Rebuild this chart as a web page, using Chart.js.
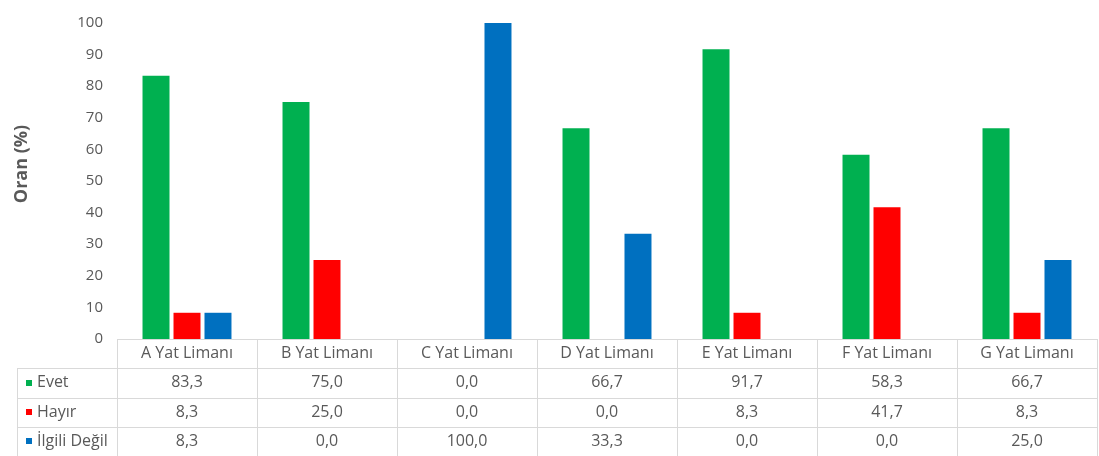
<!DOCTYPE html>
<html lang="tr">
<head>
<meta charset="utf-8">
<title>Yat Limanları – Oran (%)</title>
<script src="https://cdn.jsdelivr.net/npm/chart.js@4.4.1/dist/chart.umd.min.js"></script>
<style>
  html, body { margin: 0; padding: 0; background: #ffffff; }
  #wrap { position: relative; width: 1099px; height: 456px; }
</style>
</head>
<body>
<div id="wrap"><canvas id="chart" width="1099" height="456"></canvas></div>
<script>
// Categories and series
const categories = ['A Yat Limanı', 'B Yat Limanı', 'C Yat Limanı', 'D Yat Limanı', 'E Yat Limanı', 'F Yat Limanı', 'G Yat Limanı'];
const seriesNames = ['Evet', 'Hayır', 'İlgili Değil'];
const evet = [83.3, 75.0, 0.0, 66.7, 91.7, 58.3, 66.7];
const hayir = [8.3, 25.0, 0.0, 0.0, 8.3, 41.7, 8.3];
const ilgiliDegil = [8.3, 0.0, 100.0, 33.3, 0.0, 0.0, 25.0];
const yTicks = [0, 10, 20, 30, 40, 50, 60, 70, 80, 90, 100];
const yTitle = 'Oran (%)';

const seriesColors = ['#00B050', '#FF0000', '#0070C0'];
const textColor = '#595959';
const lineColor = '#d9d9d9';
const fontFamily = '"Open Sans", "Noto Sans", sans-serif';

const seriesValues = [evet, hayir, ilgiliDegil];

// Formats a value with a decimal comma, e.g. 83,3
function fmt(v) {
  return v.toFixed(1).replace('.', ',');
}

// Draws the data table under the plot, aligned to the category scale,
// plus the rotated axis title.
const dataTablePlugin = {
  id: 'dataTable',
  afterDraw(chart) {
    const ctx = chart.ctx;
    const xs = chart.scales.x;
    const area = chart.chartArea;
    const n = categories.length;
    const colW = (area.right - area.left) / n;
    const top = area.bottom;
    const bottom = chart.height;
    const rowH = (bottom - top) / 4;
    const tableLeft = 17;

    ctx.save();
    ctx.strokeStyle = lineColor;
    ctx.lineWidth = 1;

    // horizontal rules
    ctx.beginPath();
    ctx.moveTo(area.left, Math.round(top) + 0.5);
    ctx.lineTo(area.right, Math.round(top) + 0.5);
    for (let r = 1; r < 4; r++) {
      const y = Math.round(top + r * rowH) + 0.5;
      ctx.moveTo(tableLeft, y);
      ctx.lineTo(area.right, y);
    }
    // vertical rules
    for (let c = 0; c <= n; c++) {
      const x = Math.round(area.left + c * colW) + 0.5;
      ctx.moveTo(x, top);
      ctx.lineTo(x, bottom);
    }
    ctx.moveTo(tableLeft + 0.5, top + rowH);
    ctx.lineTo(tableLeft + 0.5, bottom);
    ctx.stroke();

    ctx.fillStyle = textColor;
    ctx.font = '16px ' + fontFamily;
    ctx.textBaseline = 'middle';
    ctx.textAlign = 'center';

    // header row: category names
    categories.forEach((cat, i) => {
      const cx = xs.getPixelForValue(i);
      ctx.fillText(cat, cx, top + rowH * 0.5);
    });

    // value rows
    seriesValues.forEach((vals, s) => {
      const cy = top + rowH * (s + 1.5);
      ctx.textAlign = 'center';
      ctx.fillStyle = textColor;
      vals.forEach((v, i) => {
        ctx.fillText(fmt(v), xs.getPixelForValue(i), cy);
      });
      // legend key + series name
      ctx.fillStyle = seriesColors[s];
      ctx.fillRect(26, Math.round(cy) - 3, 6, 6);
      ctx.fillStyle = textColor;
      ctx.textAlign = 'left';
      ctx.fillText(seriesNames[s], 37, cy);
    });

    // rotated axis title
    ctx.translate(22, 164);
    ctx.rotate(-Math.PI / 2);
    ctx.textAlign = 'center';
    ctx.font = 'bold 18px ' + fontFamily;
    ctx.fillStyle = textColor;
    ctx.fillText(yTitle, 0, 0);
    ctx.restore();
  }
};

new Chart(document.getElementById('chart'), {
  type: 'bar',
  data: {
    labels: categories,
    datasets: seriesNames.map((name, s) => ({
      label: name,
      data: seriesValues[s],
      backgroundColor: seriesColors[s],
      borderWidth: 0,
      categoryPercentage: 0.664,
      barPercentage: 0.871
    }))
  },
  options: {
    responsive: false,
    animation: false,
    devicePixelRatio: 1,
    layout: { padding: { top: 22, right: 2, bottom: 117, left: 0 } },
    plugins: {
      legend: { display: false },
      tooltip: { enabled: false }
    },
    scales: {
      x: {
        display: false,
        grid: { display: false }
      },
      y: {
        min: 0,
        max: 100,
        afterFit(scale) { scale.width = 117; },
        afterBuildTicks(scale) { scale.ticks = yTicks.map(v => ({ value: v })); },
        grid: { display: false, drawTicks: false },
        border: { display: false },
        ticks: {
          color: textColor,
          padding: 14,
          font: { family: fontFamily, size: 15 }
        }
      }
    }
  },
  plugins: [dataTablePlugin]
});
</script>
</body>
</html>
